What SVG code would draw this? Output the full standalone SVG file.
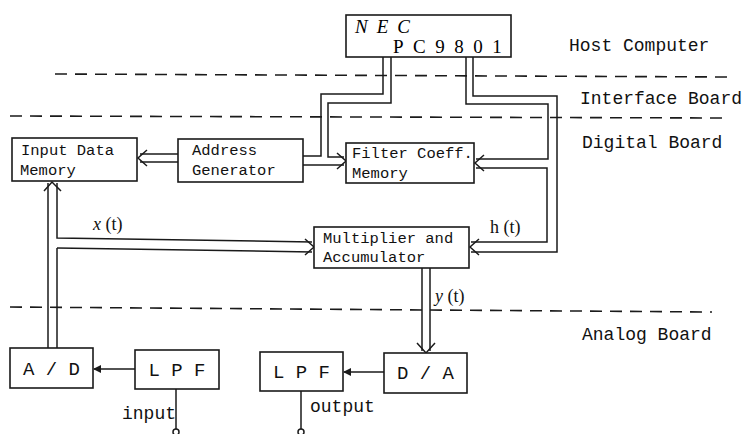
<svg xmlns="http://www.w3.org/2000/svg" width="743" height="434" viewBox="0 0 743 434">
<style>
.box{fill:#fff;stroke:#1a1a1a;stroke-width:1.6}
.ln{fill:none;stroke:#1a1a1a;stroke-width:1.5}
.dash{fill:none;stroke:#1a1a1a;stroke-width:1.6;stroke-dasharray:12 8}
.t{font-family:"Liberation Mono","DejaVu Sans Mono",monospace;font-size:15.5px;fill:#111}
.lbl{font-family:"Liberation Mono","DejaVu Sans Mono",monospace;font-size:18px;fill:#111}
.big{font-family:"Liberation Mono","DejaVu Sans Mono",monospace;font-size:19px;fill:#111}
.sig{font-family:"Liberation Serif","DejaVu Serif",serif;font-size:18px;fill:#111}
</style>
<defs>
<marker id="ah" markerWidth="8" markerHeight="8" refX="7" refY="4" orient="auto" markerUnits="userSpaceOnUse">
<path d="M0,0 L8,4 L0,8 z" fill="#1a1a1a"/>
</marker>
</defs>
<rect width="743" height="434" fill="#fff"/>

<g id="boundaries">
<line class="dash" x1="55" y1="74" x2="728" y2="77"/>
<line class="dash" x1="10" y1="116" x2="725" y2="118"/>
<line class="dash" x1="10" y1="307" x2="712" y2="312"/>
<text class="lbl" x="569" y="51">Host Computer</text>
<text class="lbl" x="580" y="104">Interface Board</text>
<text class="lbl" x="582" y="148">Digital Board</text>
<text class="lbl" x="582" y="340">Analog Board</text>
</g>

<g id="connectors">
<!-- Address Generator -> Input Data Memory -->
<line class="ln" x1="178" y1="154" x2="140" y2="154"/>
<line class="ln" x1="178" y1="162" x2="140" y2="162"/>
<polyline class="ln" points="147,150 138,158 147,166"/>
<!-- NEC -> Address Generator / Filter Coeff -->
<polyline class="ln" points="383,57 383,94 321,94 321,156 303,156"/>
<polyline class="ln" points="391,57 391,103 328,103 328,157 344,157"/>
<line class="ln" x1="303" y1="165" x2="344" y2="165"/>
<polyline class="ln" points="337,153 346,161 337,169"/>
<!-- NEC -> Filter Coeff right -->
<polyline class="ln" points="466,57 466,104 548,104 548,159 476,159"/>
<polyline class="ln" points="484,155 475,163 484,171"/>
<!-- h(t): Filter Coeff -> Multiplier -->
<polyline class="ln" points="476,168 547,168 547,242 471,242"/>
<!-- NEC -> Multiplier -->
<polyline class="ln" points="473,57 473,96 557,96 557,252 471,252"/>
<polyline class="ln" points="479,239 470,247 479,255"/>
<!-- x(t) -->
<polyline class="ln" points="57,183 57,238 312,242"/>
<line class="ln" x1="57" y1="248" x2="312" y2="252"/>
<line class="ln" x1="57" y1="248" x2="57" y2="348"/>
<line class="ln" x1="48" y1="183" x2="48" y2="348"/>
<polyline class="ln" points="44,191 52,182 61,191"/>
<polyline class="ln" points="305,239 314,247 305,255"/>
<!-- y(t) -->
<line class="ln" x1="422" y1="268" x2="422" y2="351"/>
<line class="ln" x1="430" y1="268" x2="430" y2="351"/>
<polyline class="ln" points="417,343 426,353 435,343"/>
<!-- analog -->
<line class="ln" x1="135" y1="369" x2="94" y2="369" marker-end="url(#ah)"/>
<line class="ln" x1="384" y1="372" x2="344" y2="372" marker-end="url(#ah)"/>
<line class="ln" x1="176" y1="389" x2="176" y2="429"/>
<circle class="ln" cx="176" cy="432" r="3"/>
<line class="ln" x1="301" y1="391" x2="301" y2="429"/>
<circle class="ln" cx="301" cy="432" r="3"/>
<!-- signal labels -->
<text class="sig" x="93" y="230"><tspan font-style="italic">x</tspan> (t)</text>
<text class="sig" x="490" y="233">h (t)</text>
<text class="sig" x="435" y="302"><tspan font-style="italic">y</tspan> (t)</text>
<text class="lbl" x="122" y="419" font-size="17">input</text>
<text class="lbl" x="310" y="412" font-size="17">output</text>
</g>

<g id="nec">
<rect class="box" x="346" y="15" width="165" height="42"/>
<text font-family="Liberation Serif,serif" font-style="italic" font-size="19" x="355" y="33" letter-spacing="9">NEC</text>
<text font-family="Liberation Serif,serif" font-size="19" x="393" y="53" letter-spacing="9.5">PC9801</text>
</g>

<g id="input-data-memory">
<rect class="box" x="12" y="138" width="125" height="43"/>
<text class="t" x="21" y="155">Input Data</text>
<text class="t" x="20" y="175">Memory</text>
</g>

<g id="address-generator">
<rect class="box" x="178" y="139" width="125" height="43"/>
<text class="t" x="192" y="155">Address</text>
<text class="t" x="192" y="175">Generator</text>
</g>

<g id="filter-coeff-memory">
<rect class="box" x="346" y="143" width="128" height="40"/>
<text class="t" x="352" y="158">Filter Coeff.</text>
<text class="t" x="352" y="178">Memory</text>
</g>

<g id="multiplier-accumulator">
<rect class="box" x="314" y="227" width="155" height="41"/>
<text class="t" x="323" y="243">Multiplier and</text>
<text class="t" x="323" y="262">Accumulator</text>
</g>

<g id="ad">
<rect class="box" x="10" y="348" width="83" height="40"/>
<text class="big" x="51.5" y="375" text-anchor="middle">A / D</text>
</g>

<g id="lpf-in">
<rect class="box" x="135" y="350" width="84" height="39"/>
<text class="big" x="177" y="376" text-anchor="middle">L P F</text>
</g>

<g id="lpf-out">
<rect class="box" x="260" y="352" width="83" height="39"/>
<text class="big" x="301.5" y="378" text-anchor="middle">L P F</text>
</g>

<g id="da">
<rect class="box" x="384" y="353" width="83" height="40"/>
<text class="big" x="425.5" y="379" text-anchor="middle">D / A</text>
</g>
</svg>
